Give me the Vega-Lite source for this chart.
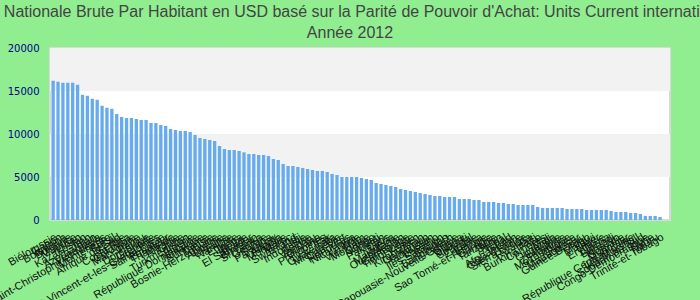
{
  "$schema": "https://vega.github.io/schema/vega-lite/v6.json",
  "width": 620,
  "height": 172,
  "autosize": {"type": "none"},
  "padding": {"left": 50, "top": 48, "right": 30, "bottom": 80},
  "background": "#90ee90",
  "title": {
    "text": ["Rente Nationale Brute Par Habitant en USD basé sur la Parité de Pouvoir d'Achat: Units Current international $", "Année 2012"],
    "font": "Liberation Sans",
    "fontSize": 16,
    "fontWeight": "normal",
    "color": "#444444",
    "anchor": "middle",
    "lineHeight": 21,
    "offset": 2,
    "dx": -10
  },
  "config": {
    "view": {"fill": "#ffffff", "stroke": "#d9d9d9", "strokeWidth": 2}
  },
  "datasets": {
    "bandes": [
      {"bas": 15000, "haut": 20000},
      {"bas": 5000, "haut": 10000}
    ],
    "pays": [
      {"pays": "Biélorussie", "valeur": 16194},
      {"pays": "Gabon", "valeur": 16078},
      {"pays": "Botswana", "valeur": 15961},
      {"pays": "Bulgarie", "valeur": 15961},
      {"pays": "Maurice", "valeur": 15961},
      {"pays": "Liban", "valeur": 15728},
      {"pays": "Kazakhstan", "valeur": 14563},
      {"pays": "Iran", "valeur": 14446},
      {"pays": "Azerbaïdjan", "valeur": 14097},
      {"pays": "Venezuela", "valeur": 13981},
      {"pays": "Saint-Christophe-et-Niévès", "valeur": 13282},
      {"pays": "Monténégro", "valeur": 13049},
      {"pays": "Brésil", "valeur": 12932},
      {"pays": "Afrique du Sud", "valeur": 12326},
      {"pays": "Serbie", "valeur": 11977},
      {"pays": "Costa Rica", "valeur": 11860},
      {"pays": "Colombie", "valeur": 11860},
      {"pays": "Macédoine", "valeur": 11744},
      {"pays": "Pérou", "valeur": 11628},
      {"pays": "Dominique", "valeur": 11628},
      {"pays": "Grenade", "valeur": 11279},
      {"pays": "Saint-Vincent-et-les-Grenadines", "valeur": 11279},
      {"pays": "Sainte-Lucie", "valeur": 11047},
      {"pays": "Équateur", "valeur": 10930},
      {"pays": "Thaïlande", "valeur": 10581},
      {"pays": "Albanie", "valeur": 10465},
      {"pays": "Chine", "valeur": 10349},
      {"pays": "Turkménistan", "valeur": 10349},
      {"pays": "Algérie", "valeur": 10233},
      {"pays": "République Dominicaine", "valeur": 9884},
      {"pays": "Jamaïque", "valeur": 9535},
      {"pays": "Suriname", "valeur": 9419},
      {"pays": "Tunisie", "valeur": 9302},
      {"pays": "Bosnie-Herzégovine", "valeur": 9186},
      {"pays": "Arménie", "valeur": 8605},
      {"pays": "Ukraine", "valeur": 8256},
      {"pays": "Namibie", "valeur": 8140},
      {"pays": "Égypte", "valeur": 8140},
      {"pays": "Tonga", "valeur": 8023},
      {"pays": "Belize", "valeur": 7868},
      {"pays": "El Salvador", "valeur": 7674},
      {"pays": "Bhoutan", "valeur": 7674},
      {"pays": "Sri Lanka", "valeur": 7558},
      {"pays": "Géorgie", "valeur": 7558},
      {"pays": "Samoa", "valeur": 7442},
      {"pays": "Paraguay", "valeur": 7093},
      {"pays": "Angola", "valeur": 6977},
      {"pays": "Mongolie", "valeur": 6512},
      {"pays": "Maroc", "valeur": 6279},
      {"pays": "Swaziland", "valeur": 6279},
      {"pays": "Fidji", "valeur": 6163},
      {"pays": "Indonésie", "valeur": 6047},
      {"pays": "Bolivie", "valeur": 5930},
      {"pays": "Vanuatu", "valeur": 5814},
      {"pays": "Guyana", "valeur": 5698},
      {"pays": "Philippines", "valeur": 5698},
      {"pays": "Irak", "valeur": 5581},
      {"pays": "Guatemala", "valeur": 5349},
      {"pays": "Micronésie", "valeur": 5233},
      {"pays": "Cap-Vert", "valeur": 5000},
      {"pays": "Honduras", "valeur": 5000},
      {"pays": "Nicaragua", "valeur": 5000},
      {"pays": "Inde", "valeur": 5000},
      {"pays": "Viêt Nam", "valeur": 4884},
      {"pays": "Moldavie", "valeur": 4767},
      {"pays": "Congo", "valeur": 4651},
      {"pays": "Kiribati", "valeur": 4302},
      {"pays": "Pakistan", "valeur": 4186},
      {"pays": "Laos", "valeur": 4070},
      {"pays": "Nigéria", "valeur": 3953},
      {"pays": "Mauritanie", "valeur": 3837},
      {"pays": "Ouzbékistan", "valeur": 3605},
      {"pays": "Cambodge", "valeur": 3488},
      {"pays": "Timor-Leste", "valeur": 3372},
      {"pays": "Yémen", "valeur": 3256},
      {"pays": "Kirghizistan", "valeur": 3140},
      {"pays": "Cameroun", "valeur": 3023},
      {"pays": "Tadjikistan", "valeur": 2907},
      {"pays": "Lesotho", "valeur": 2791},
      {"pays": "Îles Salomon", "valeur": 2791},
      {"pays": "Soudan", "valeur": 2674},
      {"pays": "Bangladesh", "valeur": 2674},
      {"pays": "Papouasie-Nouvelle-Guinée", "valeur": 2674},
      {"pays": "Ghana", "valeur": 2442},
      {"pays": "Djibouti", "valeur": 2442},
      {"pays": "Sénégal", "valeur": 2442},
      {"pays": "Zambie", "valeur": 2326},
      {"pays": "Kenya", "valeur": 2326},
      {"pays": "Sao Tomé-et-Principe", "valeur": 2093},
      {"pays": "Gambie", "valeur": 2093},
      {"pays": "Tanzanie", "valeur": 2093},
      {"pays": "Bénin", "valeur": 1977},
      {"pays": "Népal", "valeur": 1977},
      {"pays": "Tchad", "valeur": 1860},
      {"pays": "Afghanistan", "valeur": 1860},
      {"pays": "Côte d'Ivoire", "valeur": 1744},
      {"pays": "Sierra Leone", "valeur": 1744},
      {"pays": "Rwanda", "valeur": 1744},
      {"pays": "Haïti", "valeur": 1744},
      {"pays": "Burkina Faso", "valeur": 1512},
      {"pays": "Comores", "valeur": 1395},
      {"pays": "Mali", "valeur": 1395},
      {"pays": "Ouganda", "valeur": 1395},
      {"pays": "Éthiopie", "valeur": 1395},
      {"pays": "Zimbabwe", "valeur": 1395},
      {"pays": "Mozambique", "valeur": 1279},
      {"pays": "Guinée", "valeur": 1279},
      {"pays": "Madagascar", "valeur": 1279},
      {"pays": "Guinée-Bissau", "valeur": 1279},
      {"pays": "Togo", "valeur": 1163},
      {"pays": "Malawi", "valeur": 1163},
      {"pays": "Niger", "valeur": 1163},
      {"pays": "Érythrée", "valeur": 1163},
      {"pays": "Liberia", "valeur": 1163},
      {"pays": "Burundi", "valeur": 1047},
      {"pays": "Kosovo", "valeur": 930},
      {"pays": "Somalie", "valeur": 930},
      {"pays": "Myanmar", "valeur": 930},
      {"pays": "République Centrafricaine", "valeur": 814},
      {"pays": "Îles Marshall", "valeur": 814},
      {"pays": "Soudan du Sud", "valeur": 698},
      {"pays": "Congo-Démocratique", "valeur": 465},
      {"pays": "Syrie", "valeur": 465},
      {"pays": "Nauru", "valeur": 465},
      {"pays": "Trinité-et-Tobago", "valeur": 349}
    ]
  },
  "layer": [
    {
      "data": {"name": "bandes"},
      "mark": {"type": "rect", "fill": "#f2f2f2"},
      "encoding": {
        "y": {"field": "bas", "type": "quantitative"},
        "y2": {"field": "haut"}
      }
    },
    {
      "data": {"name": "pays"},
      "mark": {"type": "bar", "color": "#66aaf0"},
      "encoding": {
        "x": {
          "field": "pays",
          "type": "nominal",
          "sort": null,
          "scale": {"paddingInner": 0.324, "paddingOuter": 1.17, "align": 0.15, "round": false},
          "axis": {
            "title": null,
            "labelAngle": -30,
            "labelAlign": "right",
            "labelBaseline": "top",
            "labelFont": "Liberation Sans",
            "labelFontSize": 11,
            "labelColor": "#111111",
            "labelOverlap": false,
            "labelLimit": 0,
            "labelPadding": 11,
            "ticks": false,
            "domain": false
          }
        },
        "y": {
          "field": "valeur",
          "type": "quantitative",
          "scale": {"domain": [0, 20000], "nice": false},
          "axis": {
            "title": null,
            "values": [0, 5000, 10000, 15000, 20000],
            "format": "d",
            "grid": false,
            "ticks": false,
            "domain": false,
            "labelColor": "#00008b",
            "labelFont": "DejaVu Sans",
            "labelFontSize": 10,
            "labelPadding": 11
          }
        }
      }
    }
  ]
}
